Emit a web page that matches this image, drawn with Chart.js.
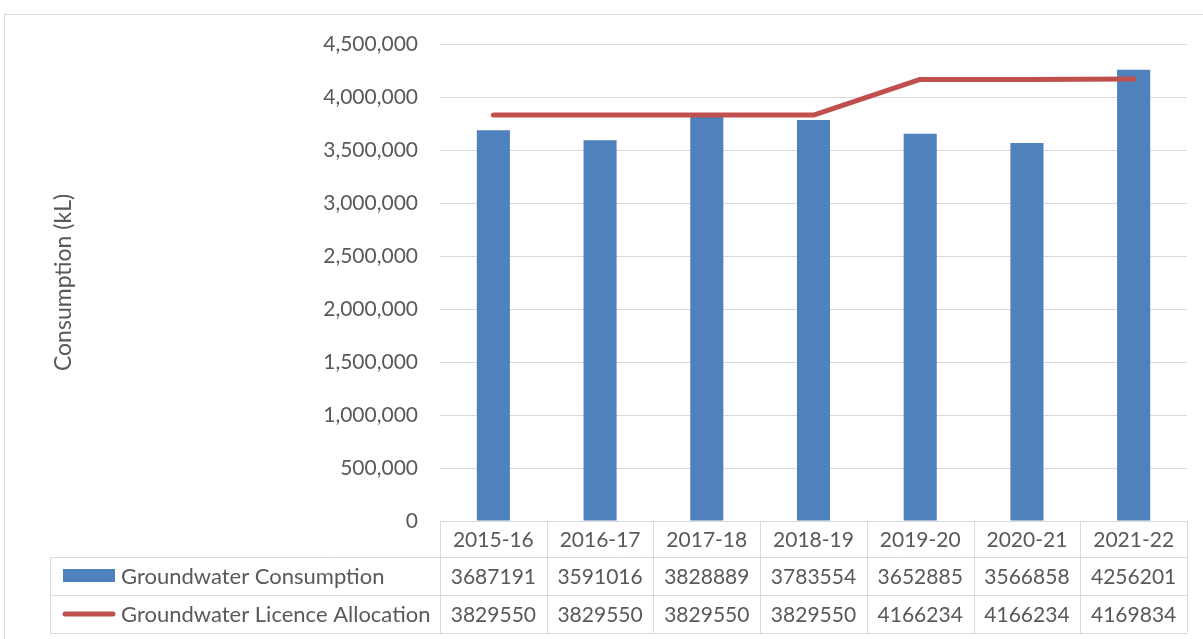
<!DOCTYPE html>
<html>
<head>
<meta charset="utf-8">
<script src="https://cdn.jsdelivr.net/npm/chart.js@4"></script>
<style>
  html, body { margin: 0; padding: 0; background: #fff; }
  #wrap { position: relative; width: 1203px; height: 639px; overflow: hidden; }
  #frame { position: absolute; left: 4px; top: 14px; right: -2px; bottom: -2px; border: 1px solid #d9d9d9; }
  #chart { position: absolute; left: 0; top: 0; }
</style>
</head>
<body>
<div id="wrap">
  <div id="frame"></div>
  <canvas id="chart" width="1203" height="639"></canvas>
</div>
<script>
// financial years
const years = ['2015-16', '2016-17', '2017-18', '2018-19', '2019-20', '2020-21', '2021-22'];
// kL
const consumption = [3687191, 3591016, 3828889, 3783554, 3652885, 3566858, 4256201];
const allocation  = [3829550, 3829550, 3829550, 3829550, 4166234, 4166234, 4169834];

const seriesNames = ['Groundwater Consumption', 'Groundwater Licence Allocation'];
const barColor = '#4f81bd';
const lineColor = '#c0504d';
const gridColor = '#d9d9d9';
const textColor = '#595959';
const font = 'Lato, "Open Sans", sans-serif';

// data table under the plot, like Excel's "data table" option
const dataTable = {
    id: 'dataTable',
    afterDraw(chart) {
        const ctx = chart.ctx;
        const x = chart.scales.x;
        const area = chart.chartArea;
        const colW = (area.right - area.left) / years.length;
        const tableLeft = 50;
        const rows = [area.bottom, 557, 595, 633];

        ctx.save();
        ctx.strokeStyle = gridColor;
        ctx.lineWidth = 1;
        ctx.beginPath();
        // horizontal lines
        ctx.moveTo(area.left, rows[0] + 0.5); ctx.lineTo(area.right, rows[0] + 0.5);
        for (let r = 1; r < rows.length; r++) {
            ctx.moveTo(tableLeft, rows[r] + 0.5); ctx.lineTo(area.right, rows[r] + 0.5);
        }
        // vertical lines
        ctx.moveTo(tableLeft + 0.5, rows[1]); ctx.lineTo(tableLeft + 0.5, rows[3]);
        for (let i = 0; i <= years.length; i++) {
            const px = Math.round(area.left + i * colW) + 0.5;
            ctx.moveTo(px, rows[0]); ctx.lineTo(px, rows[3]);
        }
        ctx.stroke();

        ctx.fillStyle = textColor;
        ctx.font = '21px ' + font;
        ctx.textAlign = 'center';
        ctx.textBaseline = 'middle';
        const cols = [years, consumption, allocation];
        years.forEach((y, i) => {
            const cx = x.getPixelForValue(i);
            cols.forEach((col, r) => {
                ctx.fillText(String(col[i]), cx, (rows[r] + rows[r + 1]) / 2 + 1);
            });
        });

        // legend keys
        const keyL = 63, keyR = 115;
        ctx.fillStyle = barColor;
        ctx.fillRect(keyL, 569, keyR - keyL, 13);
        ctx.strokeStyle = lineColor;
        ctx.lineWidth = 5;
        ctx.lineCap = 'round';
        ctx.beginPath();
        ctx.moveTo(keyL + 2, 614); ctx.lineTo(keyR - 2, 614);
        ctx.stroke();

        ctx.fillStyle = textColor;
        ctx.font = '22px ' + font;
        ctx.textAlign = 'left';
        ctx.fillText(seriesNames[0], 121, (rows[1] + rows[2]) / 2 + 1);
        ctx.fillText(seriesNames[1], 121, (rows[2] + rows[3]) / 2 + 1);
        ctx.restore();
    }
};

new Chart(document.getElementById('chart').getContext('2d'), {
    data: {
        labels: years,
        datasets: [
            {
                type: 'line',
                label: seriesNames[1],
                data: allocation,
                borderColor: lineColor,
                backgroundColor: lineColor,
                borderWidth: 5,
                borderCapStyle: 'round',
                borderJoinStyle: 'round',
                pointRadius: 0,
                tension: 0,
                order: 0
            },
            {
                type: 'bar',
                label: seriesNames[0],
                data: consumption,
                backgroundColor: barColor,
                categoryPercentage: 1,
                barPercentage: 0.31,
                order: 1
            }
        ]
    },
    options: {
        responsive: false,
        animation: false,
        layout: { padding: { left: 48, top: 44, right: 16, bottom: 110 } },
        plugins: {
            legend: { display: false },
            tooltip: { enabled: false }
        },
        scales: {
            x: {
                ticks: { display: false },
                grid: { display: false },
                border: { display: false }
            },
            y: {
                min: 0,
                max: 4500000,
                afterFit(scale) { scale.width = 392; },
                ticks: {
                    stepSize: 500000,
                    color: textColor,
                    font: { family: font, size: 21 },
                    padding: 22,
                    callback: v => v.toLocaleString('en-US')
                },
                grid: { color: gridColor, drawTicks: false },
                border: { display: false },
                title: {
                    display: true,
                    text: 'Consumption (kL)',
                    color: textColor,
                    font: { family: font, size: 23 },
                    padding: { top: 2, bottom: 0 }
                }
            }
        }
    },
    plugins: [dataTable]
});
</script>
</body>
</html>
